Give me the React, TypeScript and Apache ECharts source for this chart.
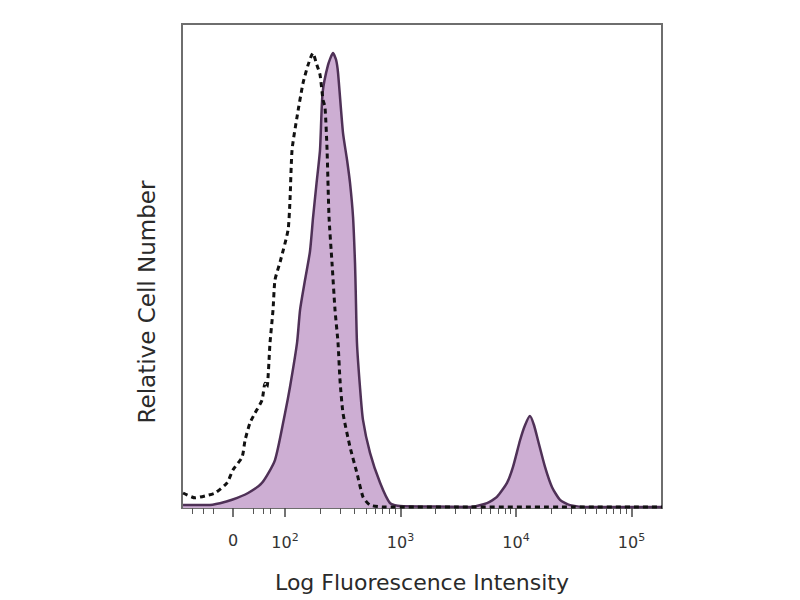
import React, { useEffect, useRef } from "react";
import * as echarts from "echarts";

// x positions are in display decades (2 = 10^2, 3 = 10^3 ...), y is relative count
const stainedX = [1.117, 1.221, 1.333, 1.437, 1.541, 1.68, 1.801, 1.913, 2.0, 2.043, 2.104, 2.13, 2.173, 2.216, 2.243, 2.273, 2.303, 2.325, 2.372, 2.416, 2.442, 2.459, 2.502, 2.537, 2.563, 2.589, 2.606, 2.612, 2.623, 2.649, 2.675, 2.736, 2.823, 2.909, 2.996, 3.3, 3.602, 3.749, 3.835, 3.922, 3.974, 4.035, 4.078, 4.121, 4.156, 4.19, 4.251, 4.312, 4.381, 4.468, 4.641, 5.0, 5.264];
const stainedY = [0.6, 0.6, 0.6, 1.0, 1.7, 3.1, 5.2, 9.9, 19.6, 25.0, 34.1, 40.9, 47.1, 53.0, 60.1, 67.1, 74.0, 85.7, 91.5, 94.0, 92.6, 89.9, 77.5, 71.9, 67.1, 60.1, 50.6, 45.0, 34.1, 25.0, 18.2, 11.4, 5.2, 1.0, 0.4, 0.3, 0.2, 1.0, 2.3, 5.2, 8.5, 14.0, 17.1, 19.0, 17.1, 14.0, 8.5, 4.3, 1.7, 0.6, 0.2, 0.2, 0.2];

const controlX = [1.117, 1.221, 1.307, 1.394, 1.498, 1.55, 1.628, 1.654, 1.697, 1.74, 1.801, 1.827, 1.844, 1.87, 1.896, 1.913, 1.957, 2.026, 2.043, 2.061, 2.104, 2.156, 2.199, 2.242, 2.268, 2.303, 2.329, 2.346, 2.364, 2.381, 2.407, 2.433, 2.459, 2.476, 2.502, 2.563, 2.623, 2.675, 2.736, 2.866, 3.5, 4.5, 5.264];
const controlY = [3.1, 2.1, 2.5, 3.1, 5.2, 7.9, 10.5, 14.0, 17.6, 19.6, 22.3, 25.8, 25.0, 34.1, 40.9, 47.1, 50.8, 57.4, 63.6, 74.0, 80.8, 87.8, 91.5, 94.0, 92.1, 89.5, 84.3, 82.9, 74.0, 60.1, 50.6, 40.9, 34.1, 26.4, 19.6, 12.6, 7.2, 2.3, 0.6, 0.2, 0.2, 0.2, 0.2];

const majorTicks = [1.55, 2, 3, 4, 5];
const majorLabels = ["0", "10{s|2}", "10{s|3}", "10{s|4}", "10{s|5}"];
const linearMinorTicks = [1.195, 1.29, 1.377, 1.723, 1.81, 1.87];
const logMinorFactors = [2, 3, 4, 5, 6, 7, 8, 9];
const logDecades = [2, 3, 4, 5];

export default function App() {
  const ref = useRef<HTMLDivElement>(null);
  useEffect(() => {
    if (!ref.current) return;
    const chart = echarts.init(ref.current, null, { renderer: "svg" });
    const xMin = 1.108;
    const xMax = 5.264;
    const minorTicks: number[] = [...linearMinorTicks];
    logDecades.forEach((d) => {
      logMinorFactors.forEach((f) => {
        const v = d + Math.log10(f);
        if (v < xMax) minorTicks.push(v);
      });
    });
    const font = "DejaVu Sans";
    chart.setOption({
      animation: false,
      backgroundColor: "#ffffff",
      grid: {
        left: 182,
        right: 138,
        top: 24,
        bottom: 92,
        show: true,
        borderColor: "#6e6e6e",
        borderWidth: 2,
        backgroundColor: "transparent",
      },
      graphic: [
        {
          type: "text",
          x: 147,
          y: 302,
          rotation: Math.PI / 2,
          style: {
            text: "Relative Cell Number",
            fontFamily: font,
            fontSize: 23,
            fill: "#2a2a2a",
            align: "center",
            verticalAlign: "middle",
          },
        },
      ],
      xAxis: [
        {
          type: "value",
          min: xMin,
          max: xMax,
          position: "bottom",
          name: "Log Fluorescence Intensity",
          nameLocation: "middle",
          nameGap: 63,
          nameTextStyle: { fontFamily: font, fontSize: 22, color: "#2a2a2a" },
          axisLine: { show: false },
          splitLine: { show: false },
          axisTick: {
            show: true,
            customValues: majorTicks,
            length: 9,
            lineStyle: { color: "#444", width: 1.5 },
          },
          axisLabel: {
            customValues: majorTicks,
            margin: 24,
            fontFamily: font,
            fontSize: 16,
            color: "#333",
            formatter: (v: number) => {
              const i = majorTicks.findIndex((t) => Math.abs(t - v) < 1e-6);
              return i >= 0 ? majorLabels[i] : "";
            },
            rich: {
              s: { fontSize: 11, fontFamily: font, color: "#333", verticalAlign: "top", padding: [0, 0, 9, 0] },
            },
          },
        },
        {
          type: "value",
          min: xMin,
          max: xMax,
          position: "bottom",
          axisLine: { show: false },
          splitLine: { show: false },
          axisLabel: { show: false },
          axisTick: {
            show: true,
            customValues: minorTicks,
            length: 6,
            lineStyle: { color: "#555", width: 1 },
          },
        },
      ],
      yAxis: {
        type: "value",
        min: 0,
        max: 100,
        axisLine: { show: false },
        axisTick: { show: false },
        axisLabel: { show: false },
        splitLine: { show: false },
      },
      series: [
        {
          type: "line",
          name: "Stained",
          data: stainedX.map((x, i) => [x, stainedY[i]]),
          showSymbol: false,
          smooth: 0.2,
          lineStyle: { color: "#4f3157", width: 2.5 },
          areaStyle: { color: "#cdaed3", opacity: 1 },
          z: 2,
        },
        {
          type: "line",
          name: "Control",
          data: controlX.map((x, i) => [x, controlY[i]]),
          showSymbol: false,
          smooth: 0.2,
          lineStyle: { color: "#111111", width: 3, type: [5, 4] },
          z: 3,
        },
      ],
    });
    return () => chart.dispose();
  }, []);
  return <div ref={ref} style={{ width: 800, height: 600, position: "absolute", left: 0, top: 0 }} />;
}
